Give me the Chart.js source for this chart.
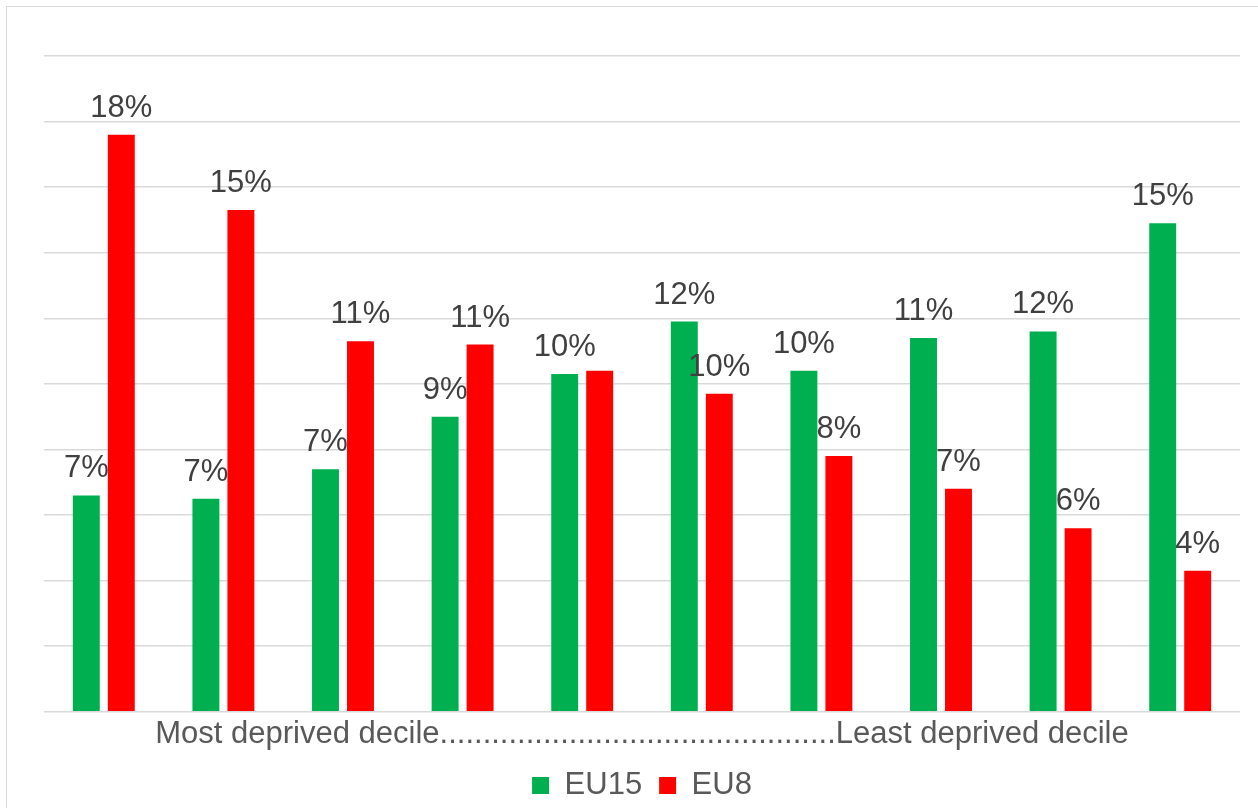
<!DOCTYPE html>
<html>
<head>
<meta charset="utf-8">
<script src="https://cdn.jsdelivr.net/npm/chart.js@4.4.1/dist/chart.umd.min.js"></script>
<style>
    html, body {
        margin: 0;
        padding: 0;
        background: #ffffff;
    }
    #wrap {
        position: relative;
        width: 1258px;
        height: 808px;
        overflow: hidden;
    }
    #frame {
        position: absolute;
        left: 6px;
        top: 6px;
        width: 1300px;
        height: 900px;
        border-top: 1.5px solid #d9d9d9;
        border-left: 1.5px solid #d9d9d9;
        pointer-events: none;
    }
</style>
</head>
<body>
<div id="wrap">
    <div id="frame"></div>
    <canvas id="decileChart" width="1258" height="808"></canvas>
</div>

<script>
// 데이터 (단위: %)
const deciles = ['1', '2', '3', '4', '5', '6', '7', '8', '9', '10'];
const eu15Values = [6.6, 6.5, 7.4, 9.0, 10.3, 11.9, 10.4, 11.4, 11.6, 14.9];
const eu8Values = [17.6, 15.3, 11.3, 11.2, 10.4, 9.7, 7.8, 6.8, 5.6, 4.3];
const seriesNames = ['EU15', 'EU8'];
const axisTitle = 'Most deprived decile' + '.'.repeat(46) + 'Least deprived decile';

const FONT = '"Liberation Sans", Arial, sans-serif';


// 막대 위 % 라벨 (겹치는 라벨은 생략)
const valueLabelPlugin = {
    id: 'valueLabels',
    afterDatasetsDraw(chart) {

        const ctx = chart.ctx;
        const drawn = [];

        ctx.save();
        ctx.font = '31px ' + FONT;
        ctx.fillStyle = '#404040';
        ctx.textAlign = 'center';
        ctx.textBaseline = 'alphabetic';

        chart.data.datasets.forEach(function(ds, di) {
            const meta = chart.getDatasetMeta(di);

            meta.data.forEach(function(bar, i) {
                const text = Math.round(ds.data[i]) + '%';
                const w = ctx.measureText(text).width;
                const box = {
                    l: bar.x - w / 2,
                    r: bar.x + w / 2,
                    t: bar.y - 18 - 22,
                    b: bar.y - 18
                };

                const hit = drawn.some(function(o) {
                    return box.l < o.r && box.r > o.l && box.t < o.b && box.b > o.t;
                });

                if (hit) {
                    return;
                }

                drawn.push(box);
                ctx.fillText(text, bar.x, bar.y - 18);
            });
        });

        ctx.restore();
    }
};


function initDecileChart() {

    const ctx = document.getElementById('decileChart');

    return new Chart(ctx.getContext('2d'), {
        type: 'bar',
        data: {
            labels: deciles,
            datasets: [
                {
                    label: seriesNames[0],
                    data: eu15Values,
                    backgroundColor: '#00b050'
                },
                {
                    label: seriesNames[1],
                    data: eu8Values,
                    backgroundColor: '#ff0000'
                }
            ]
        },
        options: {
            responsive: false,
            animation: false,
            categoryPercentage: 0.585,
            barPercentage: 0.77,
            layout: {
                padding: {
                    left: 44,
                    right: 18,
                    top: 56,
                    bottom: -3
                }
            },
            plugins: {
                legend: {
                    position: 'bottom',
                    labels: {
                        boxWidth: 17,
                        boxHeight: 17,
                        padding: 17,
                        color: '#595959',
                        font: { family: FONT, size: 31 }
                    }
                },
                tooltip: { enabled: false }
            },
            scales: {
                x: {
                    grid: { display: false, drawTicks: false },
                    border: { display: false },
                    ticks: { display: false },
                    title: {
                        display: true,
                        text: axisTitle,
                        color: '#595959',
                        font: { family: FONT, size: 31 },
                        padding: { top: 4, bottom: 0 }
                    }
                },
                y: {
                    min: 0,
                    max: 20,
                    ticks: { display: false, stepSize: 2 },
                    border: { display: false },
                    grid: {
                        color: '#d9d9d9',
                        lineWidth: 1.5,
                        drawTicks: false
                    }
                }
            }
        },
        plugins: [valueLabelPlugin]
    });
}

initDecileChart();
</script>
</body>
</html>
